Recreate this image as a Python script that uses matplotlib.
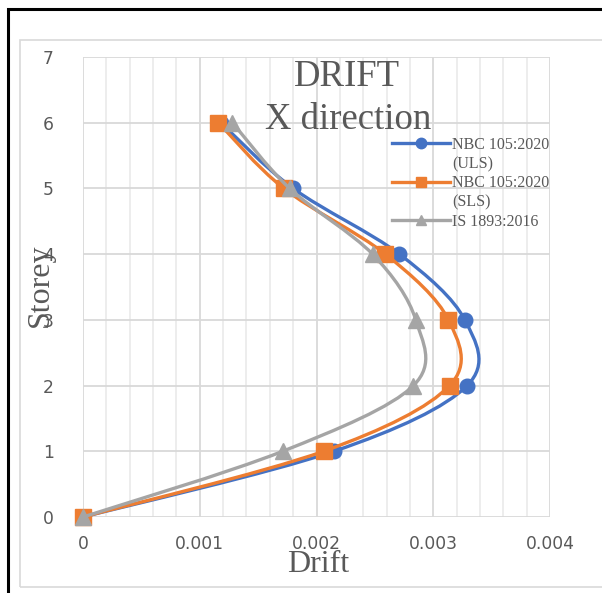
import numpy as np
import matplotlib
matplotlib.use('Agg')
import matplotlib.pyplot as plt
from matplotlib.path import Path
from matplotlib.patches import PathPatch, Rectangle
from matplotlib.lines import Line2D

# storey levels and drift values
storey = [0, 1, 2, 3, 4, 5, 6]
drift_uls = [0, 0.00215, 0.00329, 0.00327, 0.00271, 0.00180, 0.00118]
drift_sls = [0, 0.00206, 0.00314, 0.00313, 0.00259, 0.00172, 0.00116]
drift_is = [0, 0.00171, 0.00283, 0.00285, 0.00248, 0.00177, 0.00128]

labels = ['NBC 105:2020\n(ULS)', 'NBC 105:2020\n(SLS)', 'IS 1893:2016']
colors = ['#4472C4', '#ED7D31', '#A5A5A5']
markers = ['o', 's', '^']
msizes = [10.5, 12, 12]

xticks = [0, 0.001, 0.002, 0.003, 0.004]
xtick_labels = ['0', '0.001', '0.002', '0.003', '0.004']

txt = '#595959'
serif = 'Liberation Serif'


def smooth_path(x, y):
    # excel-like smoothed line: bezier with catmull-rom control points
    p = np.column_stack([x, y]).astype(float)
    n = len(p)
    verts = [p[0]]
    codes = [Path.MOVETO]
    for i in range(n - 1):
        p0 = p[i - 1] if i > 0 else p[i]
        p3 = p[i + 2] if i + 2 < n else p[i + 1]
        c1 = p[i] + (p[i + 1] - p0) / 6
        c2 = p[i + 1] - (p3 - p[i]) / 6
        verts += [c1, c2, p[i + 1]]
        codes += [Path.CURVE4] * 3
    return Path(verts, codes)


fig = plt.figure(figsize=(6.02, 5.93), dpi=100)

# outer frame + chart area frame
fig.patches.append(Rectangle((8 / 602, -0.1), 1.2, 1 - 9 / 593 + 0.1, transform=fig.transFigure,
                             fill=False, edgecolor='black', linewidth=2.2))
fig.patches.append(Rectangle((20 / 602, 1 - 587 / 593), 1.0, (587 - 40) / 593, transform=fig.transFigure,
                             fill=False, edgecolor='#d9d9d9', linewidth=1.2))

ax = fig.add_axes([83 / 602, 1 - 517 / 593, (550 - 83) / 602, (517 - 57) / 593])

series = [drift_uls, drift_sls, drift_is]
for i, d in enumerate(series):
    ax.add_patch(PathPatch(smooth_path(d, storey), fill=False, edgecolor=colors[i],
                           linewidth=2.4, zorder=3 + i, capstyle='round', clip_on=False))
    ax.plot(d, storey, linestyle='none', marker=markers[i], markersize=msizes[i],
            color=colors[i], zorder=3 + i, clip_on=False)

ax.set_xlim(0, 0.004)
ax.set_ylim(0, 7)
ax.set_xticks(xticks)
ax.set_xticklabels(xtick_labels)
ax.set_xticks(np.arange(0, 0.0041, 0.0002), minor=True)
ax.set_yticks(range(0, 8))
ax.grid(which='major', color='#d9d9d9', linewidth=1.3, zorder=0)
ax.grid(which='minor', axis='x', color='#e8e8e8', linewidth=1.1, zorder=0)
ax.set_axisbelow(True)
for s in ax.spines.values():
    s.set_visible(False)
ax.tick_params(which='both', length=0, labelsize=12.3, labelcolor=txt)
ax.tick_params(axis='x', pad=13)
ax.tick_params(axis='y', pad=21)

fig.text(347 / 602, 1 - 77 / 593, 'DRIFT', ha='center', va='center', fontsize=26.5,
         color=txt, family=serif)
fig.text(348 / 602, 1 - 120 / 593, 'X direction', ha='center', va='center', fontsize=26.5,
         color=txt, family=serif)
fig.text(318 / 602, 1 - 564 / 593, 'Drift', ha='center', va='center', fontsize=23,
         color=txt, family=serif)
fig.text(40 / 602, 1 - 285 / 593, 'Storey', ha='center', va='center', fontsize=23,
         color=txt, family=serif, rotation=90)

# legend: five rows so the wrapped labels sit like excel's
blank = Line2D([], [], linestyle='none')
handles = []
names = []
for i in range(3):
    h = Line2D([], [], color=colors[i], marker=markers[i], markersize=7.5, linewidth=2.4)
    parts = labels[i].split('\n')
    handles.append(h)
    names.append(parts[0])
    if len(parts) > 1:
        handles.append(blank)
        names.append(parts[1])
leg = ax.legend(handles, names, loc='upper left', bbox_to_anchor=(392 / 602, 1 - 137 / 593),
                bbox_transform=fig.transFigure, frameon=False, handlelength=3.6,
                handletextpad=0.15, labelspacing=0.2, borderpad=0, borderaxespad=0,
                prop={'family': serif, 'size': 11.5})
for t in leg.get_texts():
    t.set_color(txt)

fig.savefig('out.png', dpi=100)
